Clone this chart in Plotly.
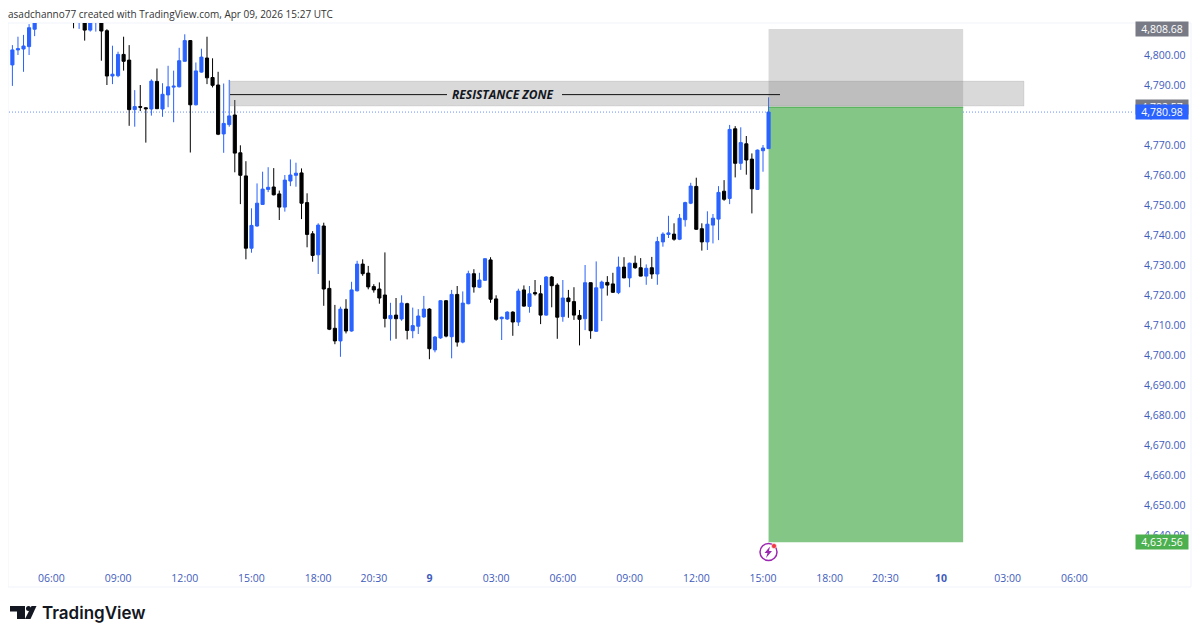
import plotly.graph_objects as go

# 15m candles, oldest first
opens = [4796.7, 4801.7, 4802.0, 4802.8, 4808.6, 4812, 4816, 4819, 4817, 4820, 4816, 4813, 4811, 4812, 4808.3, 4811.5, 4813,
         4808.1, 4793.0, 4793.1, 4800.2, 4798.3, 4781.8, 4782.8, 4782.4, 4782.0, 4791.2, 4782.0, 4786.7, 4789.3, 4789.4, 4797.9,
         4804.8, 4783.4, 4794.3, 4799.0, 4792.5, 4790.0, 4773.7, 4776.8, 4780.0, 4767.4, 4759.7, 4735.6, 4743.0, 4750.2, 4755.2,
         4756.0, 4753.7, 4749.3, 4758.0, 4759.9, 4760.7, 4750.8, 4740.4, 4733.4, 4743.0, 4722.2, 4708.9, 4704.7, 4715.3, 4708.0,
         4721.4, 4730.3, 4727.3, 4722.8, 4722.0, 4720.0, 4712.1, 4713.3, 4712.0, 4717.1, 4708.1, 4709.6, 4712.7, 4715.3, 4701.7,
         4705.7, 4718.1, 4706.1, 4720.2, 4704.3, 4717.1, 4727.1, 4722.6, 4724.9, 4731.7, 4718.7, 4712.1, 4712.0, 4714.3, 4711.0,
         4721.7, 4716.2, 4720.8, 4720.4, 4713.3, 4726.0, 4723.3, 4712.8, 4719.0, 4717.8, 4713.2, 4712.1, 4724.1, 4707.9, 4722.3,
         4724.2, 4723.7, 4720.8, 4729.3, 4725.7, 4730.6, 4729.1, 4726.3, 4729.1, 4727.0, 4737.7, 4740.2, 4740.3, 4738.6, 4745.1,
         4750.6, 4756.2, 4742.1, 4737.7, 4743.3, 4745.3, 4754.6, 4752.2, 4775.4, 4763.9, 4770.4, 4765.3, 4755.2, 4768.1, 4768.8]
highs = [4803.3, 4806.1, 4806.7, 4810.3, 4815, 4818, 4821, 4822, 4823, 4822, 4818, 4815, 4815, 4815, 4815, 4815, 4815,
         4808.6, 4803.1, 4801.1, 4806.1, 4803.3, 4788.3, 4790.0, 4782.6, 4791.9, 4795.5, 4790.6, 4796.4, 4794.8, 4802.4, 4806.9,
         4805.0, 4797.5, 4802.1, 4806.1, 4798.9, 4794.4, 4790.5, 4791.7, 4785.0, 4769.9, 4764.6, 4748.9, 4757.2, 4761.1, 4762.6,
         4762.3, 4754.8, 4760.0, 4765.2, 4764.1, 4762.2, 4753.9, 4741.3, 4743.9, 4744.1, 4724.8, 4716.7, 4716.1, 4718.6, 4724.4,
         4731.4, 4731.9, 4729.7, 4723.6, 4724.2, 4734.2, 4717.4, 4719.0, 4719.9, 4717.4, 4715.8, 4715.3, 4719.7, 4715.6, 4706.3,
         4718.3, 4718.3, 4721.7, 4723.0, 4721.2, 4728.1, 4728.6, 4727.4, 4732.3, 4732.6, 4719.9, 4712.8, 4714.6, 4714.6, 4722.1,
         4723.2, 4723.0, 4725.0, 4723.3, 4726.3, 4726.3, 4723.9, 4725.0, 4721.7, 4722.6, 4715.0, 4730.0, 4724.2, 4731.2, 4724.8,
         4726.3, 4727.4, 4732.8, 4732.6, 4730.8, 4733.1, 4732.3, 4730.2, 4732.7, 4739.4, 4740.9, 4746.4, 4743.9, 4747.0, 4751.1,
         4757.4, 4759.1, 4743.9, 4747.9, 4747.0, 4756.3, 4758.3, 4776.7, 4776.3, 4775.9, 4773.0, 4767.2, 4768.5, 4770.0, 4785.9]
lows = [4789.7, 4800.0, 4794.4, 4800.0, 4806.3, 4811.5, 4814, 4815, 4815, 4814, 4812, 4808.9, 4808.7, 4804.8, 4807.8, 4807.8, 4798.1,
        4790.0, 4790.3, 4792.6, 4794.8, 4776.4, 4776.1, 4781.3, 4770.8, 4779.8, 4782.0, 4779.4, 4782.6, 4777.6, 4789.2, 4797.9,
        4767.5, 4783.2, 4794.1, 4790.3, 4789.2, 4773.3, 4767.4, 4776.1, 4760.9, 4750.3, 4731.9, 4734.1, 4742.8, 4750.0, 4754.3,
        4753.2, 4745.0, 4747.8, 4756.3, 4756.1, 4745.3, 4735.9, 4731.1, 4727.0, 4716.4, 4708.3, 4703.6, 4699.4, 4707.2, 4707.8,
        4721.2, 4726.4, 4721.9, 4720.8, 4717.1, 4709.2, 4704.8, 4705.4, 4711.4, 4705.2, 4705.6, 4707.0, 4712.4, 4698.6, 4700.9,
        4705.4, 4705.9, 4698.9, 4702.8, 4703.9, 4716.9, 4720.8, 4722.3, 4724.7, 4717.4, 4711.4, 4705.0, 4711.7, 4706.4, 4709.7,
        4716.1, 4714.1, 4719.8, 4710.3, 4713.1, 4715.9, 4705.4, 4711.1, 4712.4, 4711.7, 4703.2, 4708.3, 4705.4, 4707.7, 4711.3,
        4719.8, 4720.7, 4720.3, 4725.6, 4722.6, 4728.7, 4726.2, 4723.4, 4725.4, 4723.4, 4736.1, 4739.0, 4738.1, 4738.3, 4742.8,
        4750.3, 4741.7, 4734.8, 4735.0, 4737.2, 4738.3, 4751.4, 4750.3, 4759.2, 4761.7, 4760.1, 4747.2, 4755.0, 4761.1, 4768.8]
closes = [4801.7, 4802.1, 4803.0, 4809.1, 4812, 4816, 4819, 4817, 4820, 4816, 4813, 4811, 4813, 4808.3, 4812, 4813, 4808.0,
          4793.0, 4793.6, 4800.2, 4797.9, 4781.8, 4782.8, 4782.6, 4782.1, 4791.3, 4782.1, 4786.9, 4789.4, 4789.6, 4798.1, 4804.8,
          4783.4, 4794.7, 4799.3, 4792.4, 4789.9, 4773.6, 4777.2, 4779.7, 4767.3, 4759.9, 4735.6, 4743.2, 4750.6, 4755.3, 4755.9,
          4753.4, 4749.3, 4758.3, 4760.0, 4760.6, 4750.6, 4740.2, 4733.2, 4743.3, 4722.0, 4708.6, 4704.7, 4715.3, 4708.0, 4721.7,
          4730.3, 4727.1, 4722.7, 4721.7, 4719.0, 4712.2, 4713.2, 4712.1, 4717.3, 4708.2, 4709.8, 4713.0, 4715.3, 4702.1, 4706.0,
          4718.1, 4706.3, 4720.2, 4704.3, 4717.3, 4727.1, 4722.7, 4725.0, 4732.1, 4718.6, 4711.9, 4712.6, 4714.3, 4711.0, 4721.3,
          4716.3, 4720.4, 4720.4, 4713.3, 4726.0, 4723.1, 4712.6, 4719.0, 4717.8, 4713.3, 4711.9, 4724.1, 4708.1, 4722.4, 4724.3,
          4723.3, 4720.9, 4729.3, 4725.7, 4730.6, 4729.1, 4726.3, 4728.9, 4727.0, 4737.8, 4740.3, 4740.7, 4738.6, 4745.6, 4750.8,
          4756.3, 4741.9, 4737.7, 4743.6, 4745.6, 4754.2, 4751.9, 4775.2, 4763.9, 4770.8, 4765.0, 4755.4, 4768.3, 4769.0, 4780.98]

# session break after 20:30, so the time axis is by bar number
tick_bars = [7, 19, 31, 43, 55, 65, 75, 87, 99, 111, 123, 135, 147, 157, 167, 179, 191]
tick_labels = ['06:00', '09:00', '12:00', '15:00', '18:00', '20:30', '<b>9</b>', '03:00', '06:00', '09:00', '12:00', '15:00',
               '18:00', '20:30', '<b>10</b>', '03:00', '06:00']
price_ticks = [4640, 4650, 4660, 4670, 4680, 4690, 4700, 4710, 4720, 4730, 4740, 4750, 4760, 4770, 4780, 4790, 4800]

stop_price = 4808.68
entry_price = 4782.57
last_price = 4780.98
target_price = 4637.56
zone_top = 4791.3
zone_bottom = 4783.0
zone_line = 4786.8

BLUE = '#2962ff'
TICK = '#3f5cbd'

# plot box in page pixels; the html body has an 8px margin so the figure is 8px smaller
L, R, T, B = 9, 1132, 23, 563
BODY = 8


def px(x):
    return (x - L) / (R - L)


def py(y):
    return (B - y) / (B - T)


def bar(x):
    return (x - 12.4) / 5.56


fig = go.Figure(go.Candlestick(
    x=list(range(len(opens))), open=opens, high=highs, low=lows, close=closes,
    increasing=dict(line=dict(color=BLUE, width=1), fillcolor=BLUE),
    decreasing=dict(line=dict(color='#000000', width=1), fillcolor='#000000'),
    whiskerwidth=0, showlegend=False))

# position tool and resistance zone
fig.add_shape(type='rect', x0=136, x1=171, y0=entry_price, y1=stop_price, fillcolor='rgba(128,128,128,0.3)',
              line_width=0, layer='below')
fig.add_shape(type='rect', x0=136, x1=171, y0=target_price, y1=entry_price, fillcolor='#83c686',
              line_width=0, layer='below')
fig.add_shape(type='line', x0=136, x1=171, y0=entry_price, y1=entry_price, line=dict(color='#4caf50', width=1), layer='below')
fig.add_shape(type='rect', x0=bar(230), x1=bar(1024), y0=zone_bottom, y1=zone_top, fillcolor='rgba(128,128,128,0.3)',
              line=dict(color='rgba(128,128,128,0.15)', width=1), layer='above')
fig.add_shape(type='line', x0=bar(230), x1=bar(447), y0=zone_line, y1=zone_line, line=dict(color='#111111', width=1))
fig.add_shape(type='line', x0=bar(562), x1=bar(780), y0=zone_line, y1=zone_line, line=dict(color='#111111', width=1))
fig.add_shape(type='line', xref='paper', x0=0, x1=1, y0=last_price, y1=last_price,
              line=dict(color=BLUE, width=1, dash='1px,2px'), opacity=0.7, layer='below')

# chart frame
fig.add_shape(type='rect', xref='paper', yref='paper', x0=px(8), x1=px(1191), y0=py(587), y1=py(23),
              line=dict(color='#f0f3fa', width=1), layer='below')

# flash icon under the last bar
fig.add_shape(type='circle', xref='paper', yref='paper', x0=px(760), x1=px(777), y0=py(560.5), y1=py(543.5),
              fillcolor='white', line=dict(color='#9c27b0', width=1.5))
fig.add_shape(type='path', xref='paper', yref='paper', fillcolor='#9c27b0', line_width=0, path=(
    f'M {px(770)} {py(546.5)} L {px(764.5)} {py(553)} L {px(767.5)} {py(553)} L {px(766)} {py(558)} '
    f'L {px(772)} {py(551)} L {px(769)} {py(551)} Z'))
fig.add_shape(type='circle', xref='paper', yref='paper', x0=px(771.5), x1=px(776.5), y0=py(548.5), y1=py(543.5),
              fillcolor='#f23645', line=dict(color='white', width=0.5))

# TradingView mark
fig.add_shape(type='path', xref='paper', yref='paper', fillcolor='#131722', line_width=0, path=(
    f'M {px(10)} {py(606)} L {px(25)} {py(606)} L {px(25)} {py(619)} L {px(17)} {py(619)} '
    f'L {px(17)} {py(611.5)} L {px(10)} {py(611.5)} Z'))
fig.add_shape(type='circle', xref='paper', yref='paper', x0=px(26), x1=px(31), y0=py(611), y1=py(606),
              fillcolor='#131722', line_width=0)
fig.add_shape(type='path', xref='paper', yref='paper', fillcolor='#131722', line_width=0, path=(
    f'M {px(31.5)} {py(606)} L {px(36.5)} {py(606)} L {px(30.5)} {py(619)} L {px(25)} {py(619)} Z'))


def tag(price, text, color):
    fig.add_annotation(xref='paper', x=px(1135), y=price, xanchor='left', yanchor='middle', text=text, showarrow=False,
                       width=52, height=14, bgcolor=color, borderpad=0, align='center',
                       font=dict(family='Open Sans', size=10.5, color='white'))


tag(stop_price, '4,808.68', '#787b86')
tag(entry_price, '4,782.57', '#787b86')
tag(last_price, '4,780.98', BLUE)
tag(target_price, '4,637.56', '#4caf50')

fig.add_annotation(x=bar(502.5), y=zone_line, text='<b><i>RESISTANCE ZONE</i></b>', showarrow=False,
                   font=dict(family='Open Sans', size=12, color='#131722'))
fig.add_annotation(xref='paper', yref='paper', x=px(7), y=py(14), xanchor='left', yanchor='middle', showarrow=False,
                   text='asadchanno77 created with TradingView.com, Apr 09, 2026 15:27 UTC', borderpad=0,
                   font=dict(family='Open Sans', size=10, color='#333333'))
fig.add_annotation(xref='paper', yref='paper', x=px(40), y=py(613), xanchor='left', yanchor='middle', showarrow=False,
                   text='TradingView', font=dict(family='Inter', size=17, weight=600, color='#131722'))

fig.update_layout(
    width=1200 - BODY, height=639 - BODY,
    margin=dict(l=L - BODY, r=1200 - R, t=T - BODY, b=639 - B),
    paper_bgcolor='white', plot_bgcolor='white',
    font=dict(family='Open Sans', size=10.5, color=TICK),
    boxgap=0.2,
    xaxis=dict(range=[bar(L), bar(R)], tickmode='array', tickvals=tick_bars, ticktext=tick_labels, showgrid=False,
               zeroline=False, showline=False, ticks='outside', ticklen=5, tickcolor='rgba(0,0,0,0)',
               rangeslider=dict(visible=False)),
    yaxis=dict(range=[4630.67, 4810.67], side='right', tickmode='array', tickvals=price_ticks, tickformat=',.2f',
               showgrid=False, zeroline=False, showline=False, ticks='outside', ticklen=9, tickcolor='rgba(0,0,0,0)'),
)

fig.write_html("out.html")
